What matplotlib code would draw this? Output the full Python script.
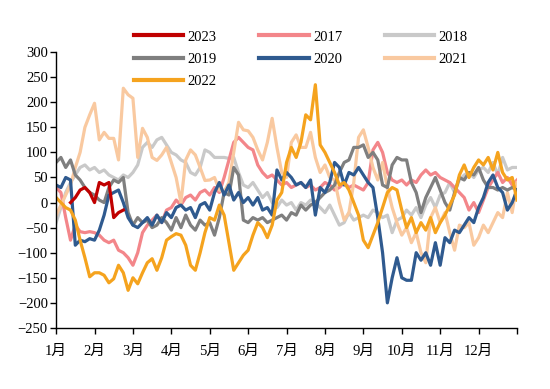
import numpy as np
import matplotlib
matplotlib.use("Agg")
import matplotlib.pyplot as plt

plt.rcParams['font.family'] = ['Liberation Serif', 'Noto Sans CJK SC']

# grille commune : 1/8 de mois, de 1月 à fin décembre
months = np.linspace(0, 12, 97)
month_labels = ["1月", "2月", "3月", "4月", "5月", "6月", "7月", "8月", "9月", "10月", "11月", "12月"]

v2017 = [30, 20, -30, -75, -45, -58, -60, -58, -60, -65, -75, -80, -75, -95, -100, -110,
         -125, -100, -60, -45, -35, -25, -40, -15, -10, 5, -5, 10, 15, 5, 20, 25,
         15, 30, 20, 50, 85, 120, 130, 120, 110, 105, 75, 60, 50, 55, 45, 35,
         40, 30, 35, 40, 30, 35, 25, 30, 40, 35, 25, 30, 40, 30, 35, 30,
         25, 40, 105, 120, 100, 60, 45, 40, 45, 35, 45, 40, 55, 65, 55, 60,
         50, 45, 40, 30, 20, 10, -15, 0, -20, 5, 30, 45, 60, 40, 50, 35, 45]
v2018 = [-40, -10, 20, 40, 55, 70, 75, 65, 70, 60, 65, 55, 50, 45, 55, 50,
         60, 75, 110, 120, 110, 125, 130, 115, 100, 95, 85, 80, 60, 55, 70, 105,
         100, 90, 90, 90, 88, 90, 60, 35, 30, 40, 25, 10, 20, 0, -10, 5,
         -5, 0, -15, 0, -5, 5, 0, -10, -20, -5, -25, -45, -40, -20, -35, -30,
         -25, -30, -15, -20, -30, -25, -60, -35, -30, -15, -25, -10, -30, -5, 10, -10,
         15, 20, 40, 20, 45, 55, 60, 50, 65, 70, 60, 80, 55, 90, 65, 70, 70]
v2019 = [80, 90, 70, 85, 55, 45, 30, 20, 15, 5, 0, 30, 45, 40, 50, -20,
         -45, -30, -40, -35, -50, -45, -30, -40, -55, -30, -50, -25, -45, -55, -35, -45,
         -40, -65, -30, 20, 15, 70, 55, -35, -40, -30, -35, -30, -40, -35, -30, -25,
         -35, -20, -25, -5, -15, -5, 0, 10, 20, 25, 35, 60, 80, 85, 110, 110,
         115, 90, 100, 85, 35, 30, 75, 90, 85, 85, 40, 20, -20, 10, 30, 50,
         25, 0, -15, 20, 50, 45, 60, 55, 70, 45, 30, 30, 25, 30, 25, 30, 25]
v2020 = [35, 30, 50, 45, -85, -75, -78, -72, -75, -55, -25, 15, 20, 25, 0, -30,
         -45, -50, -40, -30, -45, -25, -40, -20, -30, -10, -5, -15, -10, -30, -5, 0,
         -15, 20, 40, 15, 35, 5, 20, 0, 10, -5, 10, -15, -10, -25, 65, 45,
         60, 50, 35, 40, 30, 45, -25, 30, 20, 40, 80, 70, 35, 60, 55, 70,
         55, 40, 30, -30, -100, -200, -150, -110, -150, -155, -155, -100, -115, -100, -125, -80,
         -125, -70, -80, -55, -60, -45, -30, -40, -10, 10, 40, 55, 30, 20, -15, 0, 25]
v2021 = [-25, -5, 15, 35, 70, 100, 150, 175, 198, 125, 140, 128, 128, 85, 228, 215,
         208, 90, 148, 130, 90, 84, 95, 110, 80, 50, 0, 85, 105, 95, 70, 44,
         45, 50, 25, 22, 40, 100, 160, 145, 143, 130, 105, 85, 120, 168, 110, 60,
         50, 120, 135, 110, 110, 140, 90, 60, 75, 50, 45, 0, -35, -20, 40, 130,
         145, 110, 70, 45, 80, 30, -10, -40, -65, -50, -80, -60, -100, -120, -30, -10,
         -40, -20, -60, -95, -45, -50, -40, -85, -70, -45, -60, -40, -20, -30, 20, -20, 40]
v2022 = [10, 0, -10, -15, -35, -75, -110, -148, -140, -140, -145, -160, -152, -125, -140, -175,
         -150, -162, -140, -120, -112, -135, -110, -75, -68, -62, -65, -85, -125, -135, -100, -60,
         -30, -35, -5, -25, -80, -135, -120, -105, -95, -65, -40, -50, -70, -45, 5, 20,
         80, 110, 90, 120, 175, 165, 235, 115, 100, 80, 60, 35, 40, 25, 0, -25,
         -75, -90, -65, -40, -10, 20, 30, 25, -15, -50, -30, -60, -40, -55, -30, -60,
         -40, -25, -5, 15, 55, 75, 50, 70, 85, 75, 90, 65, 100, 60, 45, 50, 5]
# 2023 : commence début février (indice 3 de la grille)
v2023 = [0, 10, 25, 30, 20, 0, 40, 35, 40, -30, -20, -15]
start_2023 = 3

colors = {
    "2017": "#F3868A",
    "2018": "#C9C9C9",
    "2019": "#7F7F7F",
    "2020": "#2F5A8F",
    "2021": "#F9C9A0",
    "2022": "#F5A31E",
    "2023": "#C00000",
}

fig = plt.figure(figsize=(5.5, 3.89), dpi=100)
ax = fig.add_axes([0.102, 0.157, 0.838, 0.709])

lines = {}
for year, vals in [("2018", v2018), ("2017", v2017), ("2021", v2021), ("2019", v2019),
                   ("2020", v2020), ("2022", v2022)]:
    lines[year], = ax.plot(months[:len(vals)], vals, color=colors[year], lw=2.3,
                           label=year, solid_joinstyle='round')
lines["2023"], = ax.plot(months[start_2023:start_2023 + len(v2023)], v2023,
                         color=colors["2023"], lw=2.3, label="2023")

ax.set_xlim(0, 12)
ax.set_ylim(-250, 300)
ax.set_yticks(np.arange(-250, 301, 50))
ax.set_xticks(np.arange(0, 13))
ax.set_xticklabels(month_labels + [""])
ax.tick_params(axis='both', direction='out', length=4, width=1, labelsize=10.5, colors='black')
ax.tick_params(axis='y', pad=2)
ax.tick_params(axis='x', pad=8.5)
for s in ["top", "right"]:
    ax.spines[s].set_visible(False)
for s in ["left", "bottom"]:
    ax.spines[s].set_linewidth(1)
    ax.spines[s].set_color('black')

# légende : ordre par colonnes pour obtenir 2023 2017 2018 / 2019 2020 2021 / 2022
order = ["2023", "2019", "2022", "2017", "2020", "2018", "2021"]
leg = fig.legend([lines[y] for y in order], order, loc='upper left',
                 bbox_to_anchor=(0.243, 0.922), ncol=3, frameon=False,
                 fontsize=10.5, handlelength=3.4, handletextpad=0.3,
                 columnspacing=2.9, labelspacing=0.62, borderpad=0, borderaxespad=0)
for h in leg.get_lines():
    h.set_linewidth(3)

plt.savefig("out.png", dpi=100)
